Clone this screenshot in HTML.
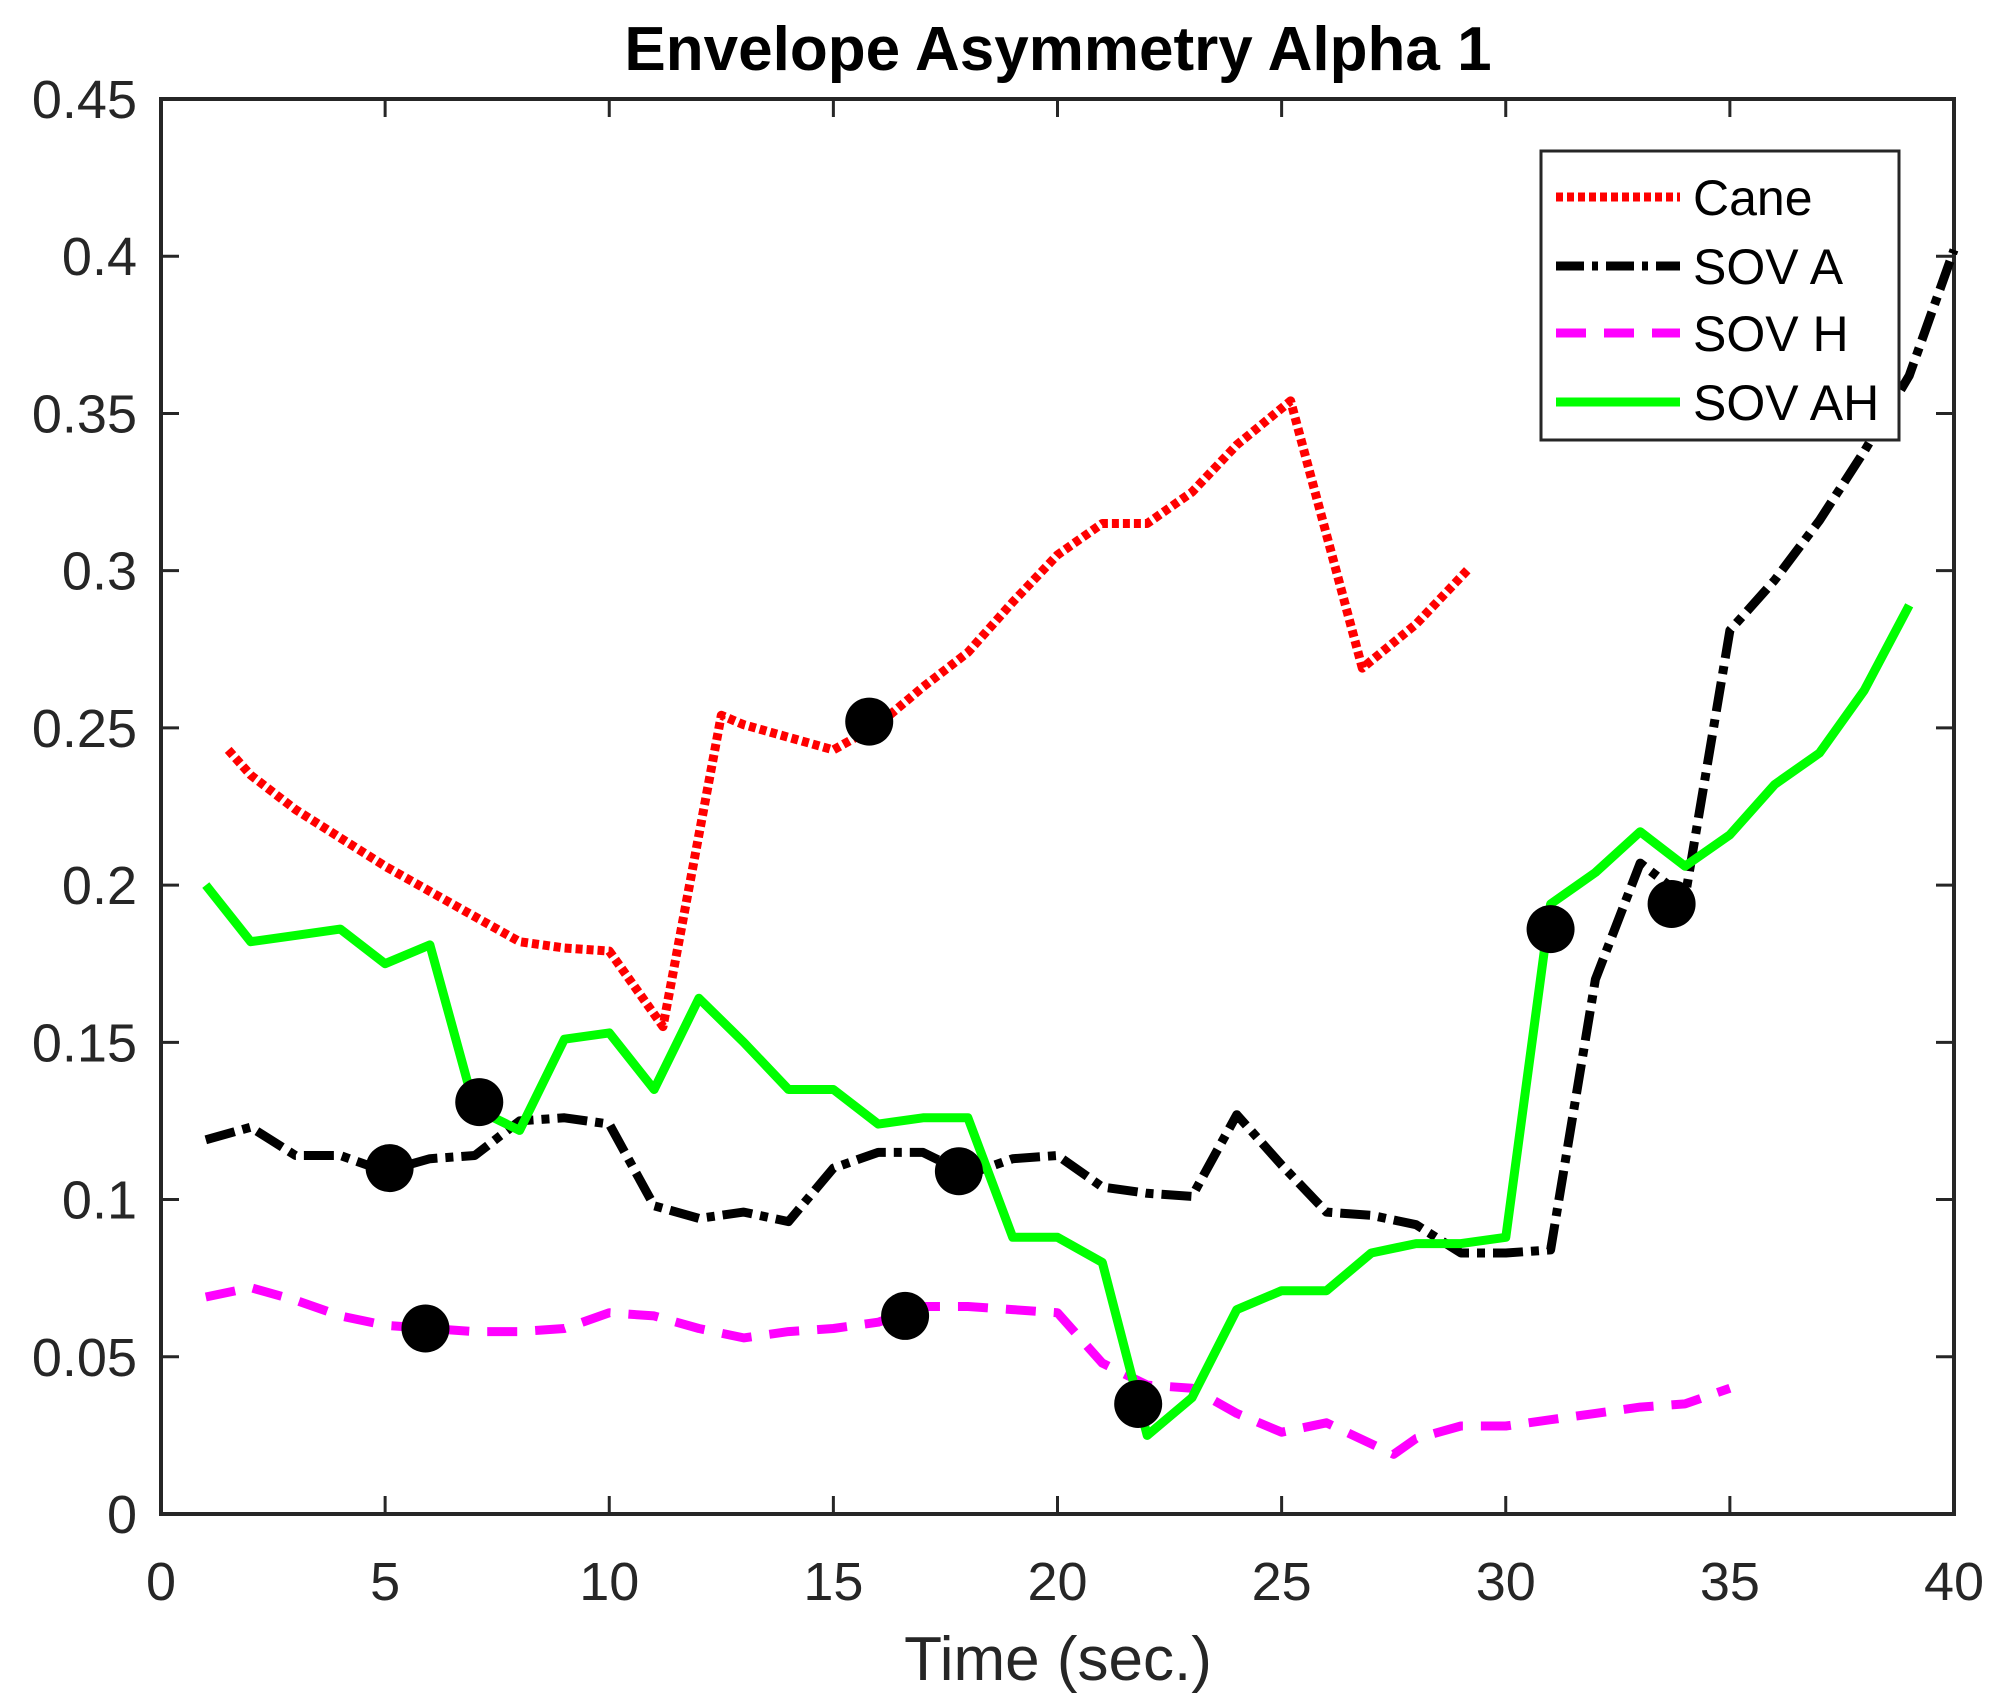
<!DOCTYPE html>
<html><head><meta charset="utf-8"><style>
html,body{margin:0;padding:0;background:#fff;}
svg{display:block;font-family:"Liberation Sans",Arial,sans-serif;}
</style></head><body>
<svg id="chart" width="1997" height="1705" viewBox="0 0 1997 1705">
<rect x="0" y="0" width="1997" height="1705" fill="#fff"/>
<text x="1058" y="70" text-anchor="middle" font-size="62" font-weight="bold" fill="#000">Envelope Asymmetry Alpha 1</text>
<g id="axes"></g>
<g id="series"></g>
<g id="markers"></g>
<text x="1058" y="1680" text-anchor="middle" font-size="62" fill="#262626">Time (sec.)</text>
<g>
<rect x="1541" y="151" width="358" height="289" fill="#fff" stroke="#262626" stroke-width="3"/>
<g><line x1="1556" y1="197" x2="1680" y2="197" stroke="#ff0000" stroke-width="9" stroke-dasharray="7,4"/><text x="1693" y="215" font-size="50" fill="#000">Cane</text></g>
<g><line x1="1556" y1="266" x2="1680" y2="266" stroke="#000" stroke-width="9" stroke-dasharray="28,8,6,8"/><text x="1693" y="284" font-size="50" fill="#000">SOV A</text></g>
<g><line x1="1556" y1="333" x2="1680" y2="333" stroke="#ff00ff" stroke-width="9" stroke-dasharray="30,18"/><text x="1693" y="351" font-size="50" fill="#000">SOV H</text></g>
<g><line x1="1556" y1="402" x2="1680" y2="402" stroke="#00ff00" stroke-width="9"/><text x="1693" y="420" font-size="50" fill="#000">SOV AH</text></g>
</g>
</svg>
<script>
const xTicks=[0,5,10,15,20,25,30,35,40];
const yTicks=[0,0.05,0.1,0.15,0.2,0.25,0.3,0.35,0.4,0.45];
const yTickLabels=['0','0.05','0.1','0.15','0.2','0.25','0.3','0.35','0.4','0.45'];
const caneX=[1.5,2,3,4,5,6,7,8,9,10,11.2,12.5,13,14,15,16,17,18,19,20,21,22,23,24,25.2,26.8,28,29.2];
const caneY=[0.243,0.235,0.224,0.215,0.206,0.198,0.190,0.182,0.180,0.179,0.155,0.254,0.251,0.247,0.243,0.251,0.263,0.274,0.290,0.305,0.315,0.315,0.325,0.340,0.354,0.269,0.283,0.301];
const sovAX=[1,2,3,4,5,6,7,8,9,10,11,12,13,14,15,16,17,18,19,20,21,22,23,24,25,26,27,28,29,30,31,32,33,34,35,36,37,38,39,40];
const sovAY=[0.119,0.123,0.114,0.114,0.109,0.113,0.114,0.125,0.126,0.124,0.098,0.094,0.096,0.093,0.110,0.115,0.115,0.108,0.113,0.114,0.104,0.102,0.101,0.127,0.111,0.096,0.095,0.092,0.083,0.083,0.084,0.170,0.207,0.196,0.281,0.297,0.316,0.338,0.362,0.402];
const sovHX=[1,2,3,4,5,6,7,8,9,10,11,12,13,14,15,16,17,18,19,20,21,22,23,24,25,26,27.5,28,29,30,31,32,33,34,35];
const sovHY=[0.069,0.072,0.068,0.063,0.060,0.059,0.058,0.058,0.059,0.064,0.063,0.059,0.056,0.058,0.059,0.061,0.066,0.066,0.065,0.064,0.048,0.041,0.040,0.032,0.026,0.029,0.019,0.024,0.028,0.028,0.030,0.032,0.034,0.035,0.040];
const sovAHX=[1,2,3,4,5,6,7,8,9,10,11,12,13,14,15,16,17,18,19,20,21,22,23,24,25,26,27,28,29,30,31,32,33,34,35,36,37,38,39];
const sovAHY=[0.200,0.182,0.184,0.186,0.175,0.181,0.129,0.122,0.151,0.153,0.135,0.164,0.150,0.135,0.135,0.124,0.126,0.126,0.088,0.088,0.080,0.025,0.037,0.065,0.071,0.071,0.083,0.086,0.086,0.088,0.194,0.204,0.217,0.206,0.216,0.232,0.242,0.262,0.289];
const markerX=[15.8,5.1,7.1,5.9,16.6,17.8,21.8,31,33.7];
const markerY=[0.252,0.110,0.131,0.059,0.063,0.109,0.035,0.186,0.194];

const L=161,R=1954,T=99,B=1514;
const xs=v=>L+(v-0)/(40-0)*(R-L);
const ys=v=>B-(v-0)/(0.45-0)*(B-T);
const NS='http://www.w3.org/2000/svg';
function mk(tag,attrs,parent){const e=document.createElementNS(NS,tag);for(const k in attrs)e.setAttribute(k,attrs[k]);parent.appendChild(e);return e;}
const axes=document.getElementById('axes');
const st='#262626';
xTicks.forEach(t=>{
  const x=xs(t);
  let l=mk('line',{x1:x,y1:B,x2:x,y2:B-18,stroke:st,'stroke-width':3},axes);
  
  
  l=mk('line',{x1:x,y1:T,x2:x,y2:T+18,stroke:st,'stroke-width':3},axes);
  
  
  const tx=mk('text',{x:x,y:1600,'text-anchor':'middle','font-size':54,fill:st},axes);
  tx.textContent=String(t);
  
  
});
yTicks.forEach((t,i)=>{
  const y=ys(t);
  let l=mk('line',{x1:L,y1:y,x2:L+18,y2:y,stroke:st,'stroke-width':3},axes);
  
  
  l=mk('line',{x1:R,y1:y,x2:R-18,y2:y,stroke:st,'stroke-width':3},axes);
  
  
  const tx=mk('text',{x:137,y:y+19,'text-anchor':'end','font-size':54,fill:st},axes);
  tx.textContent=yTickLabels[i];
  
  
});
const frame=mk('rect',{x:L,y:T,width:R-L,height:B-T,fill:'none',stroke:st,'stroke-width':4},axes);



const sg=document.getElementById('series');
function line(X,Y,color,dash,name){
  const d=X.map((x,i)=>(i?'L':'M')+xs(x).toFixed(1)+','+ys(Y[i]).toFixed(1)).join(' ');
  const p=mk('path',{d:d,fill:'none',stroke:color,'stroke-width':9,'stroke-linejoin':'round'},sg);
  if(dash)p.setAttribute('stroke-dasharray',dash);
  
  
}
line(caneX,caneY,'#ff0000','7,4','series-cane');
line(sovAX,sovAY,'#000000','30,8,8,8','series-sov-a');
line(sovHX,sovHY,'#ff00ff','30,18','series-sov-h');
line(sovAHX,sovAHY,'#00ff00',null,'series-sov-ah');
const mg=document.getElementById('markers');
markerX.forEach((x,i)=>{
  const c=mk('circle',{cx:xs(x),cy:ys(markerY[i]),r:24,fill:'#000'},mg);
  
  
});
</script>
</body></html>
